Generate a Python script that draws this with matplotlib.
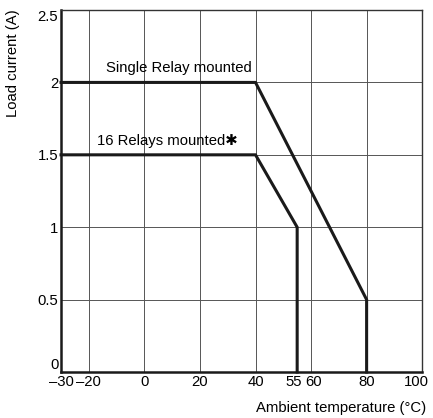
import matplotlib.pyplot as plt
from matplotlib.transforms import ScaledTranslation

plt.rcParams['font.family'] = ['Liberation Sans', 'DejaVu Sans']

# derating curves
single_temp = [-30, 40, 80, 80]
single_curr = [2, 2, 0.5, 0]
multi_temp = [-30, 40, 55, 55]
multi_curr = [1.5, 1.5, 1, 0]

x_ticks = [-30, -20, 0, 20, 40, 55, 60, 80, 100]
x_labels = ['\u201330', '\u201320', '0', '20', '40', '55', '60', '80', '100']
x_grid = [-20, 0, 20, 40, 60, 80]
y_ticks = [0, 0.5, 1, 1.5, 2, 2.5]
y_labels = ['0', '0.5', '1', '1.5', '2', '2.5']

fs = 10.7

fig = plt.figure(figsize=(4.33, 4.18), dpi=100)
ax = fig.add_axes([0.141, 0.110, 0.834, 0.866])

for x in x_grid:
    ax.axvline(x, color='#555555', lw=0.7, zorder=1)
for y in y_ticks[1:-1]:
    ax.axhline(y, color='#555555', lw=0.7, zorder=1)

ax.plot(single_temp, single_curr, color='#1a1a1a', lw=2.2, zorder=3,
        solid_joinstyle='miter', clip_on=False)
ax.plot(multi_temp, multi_curr, color='#1a1a1a', lw=2.2, zorder=3,
        solid_joinstyle='miter', clip_on=False)

ax.text(38.5, 2.05, 'Single Relay mounted', ha='right', va='bottom', fontsize=fs)
ax.text(33.5, 1.55, '16 Relays mounted\u2731', ha='right', va='bottom', fontsize=fs)

ax.set_xlim(-30, 100)
ax.set_ylim(0, 2.5)
ax.set_xticks(x_ticks)
ax.set_xticklabels(x_labels, fontsize=fs)
ax.set_yticks(y_ticks)
ax.set_yticklabels(y_labels, fontsize=fs)
ax.tick_params(length=0, pad=2)
ax.get_yticklabels()[0].set_va('bottom')
ax.get_yticklabels()[-1].set_va('top')

# nudge the crowded x labels apart
shifts = {'55': -3, '60': 3, '100': -6}
for lab in ax.get_xticklabels():
    dx = shifts.get(lab.get_text(), 0)
    if dx:
        lab.set_transform(lab.get_transform() + ScaledTranslation(dx / 100, 0, fig.dpi_scale_trans))

for s in ['left', 'bottom']:
    ax.spines[s].set_linewidth(1.8)
    ax.spines[s].set_color('#1a1a1a')
for s in ['top', 'right']:
    ax.spines[s].set_linewidth(1.0)
    ax.spines[s].set_color('#333333')

fig.text(0.03, 0.978, 'Load current (A)', rotation=90, ha='center', va='top', fontsize=fs)
fig.text(0.985, 0.008, 'Ambient temperature (\u00b0C)', ha='right', va='bottom', fontsize=fs)

fig.savefig('out.png', dpi=100)
